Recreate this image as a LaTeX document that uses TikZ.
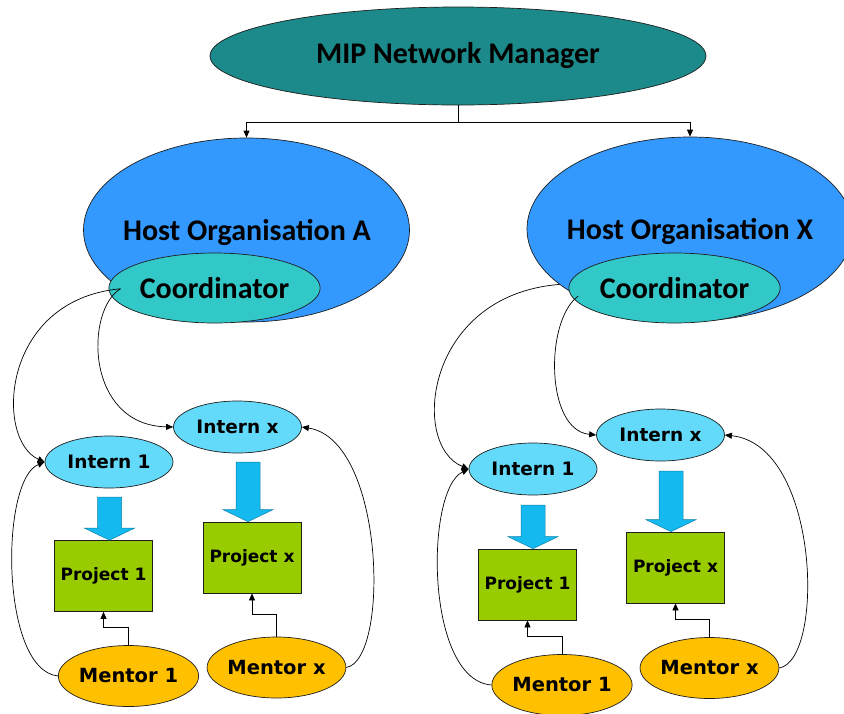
\documentclass[tikz,border=0pt]{standalone}
\usepackage{fontspec}
\setmainfont{Carlito}
\newfontfamily\labelfont{DejaVu Sans}
\usetikzlibrary{shapes.geometric,arrows.meta,calc}

\definecolor{managerteal}{RGB}{28,138,138}
\definecolor{hostblue}{RGB}{51,153,255}
\definecolor{coordcyan}{RGB}{51,200,200}
\definecolor{internblue}{RGB}{100,218,250}
\definecolor{feedblue}{RGB}{20,185,240}
\definecolor{projgreen}{RGB}{153,204,0}
\definecolor{mentoryellow}{RGB}{255,192,0}
\definecolor{inkline}{RGB}{30,30,30}

\tikzset{
  blob/.style={ellipse, draw=inkline, line width=0.7pt, inner sep=0pt, text=black},
  bigtext/.style={font=\bfseries\fontsize{30}{30}\selectfont},
  manager/.style={blob, fill=managerteal, minimum width=496pt, minimum height=98pt, bigtext},
  host/.style={blob, fill=hostblue, minimum width=326pt, minimum height=184pt, bigtext},
  coord/.style={blob, fill=coordcyan, minimum width=176pt, minimum height=70pt, bigtext},
  intern/.style={blob, fill=internblue, minimum width=128pt, minimum height=52pt,
    font=\labelfont\bfseries\fontsize{18.5}{18.5}\selectfont},
  mentor/.style={blob, fill=mentoryellow, minimum width=129pt, minimum height=61pt,
    font=\labelfont\bfseries\fontsize{19.5}{19.5}\selectfont},
  project/.style={rectangle, draw=inkline, line width=0.7pt, fill=projgreen, inner sep=0pt,
    minimum width=98pt, minimum height=71pt,
    font=\labelfont\bfseries\fontsize{17}{17}\selectfont},
  link/.style={draw=black, line width=0.7pt, -{Triangle[length=7pt,width=6pt]}},
  feed/.style={fill=feedblue, draw=feedblue!70!black, line width=0.5pt},
}

% broad block arrow: #1 top centre of the shaft, #2 tip
\newcommand\feedarrow[2]{%
  \path[feed] let \p1=#1, \p2=#2 in
    (\x1-12pt,\y1) -- (\x1+12pt,\y1) -- (\x1+12pt,\y2+12pt) -- (\x1+25pt,\y2+12pt)
    -- (\x1,\y2) -- (\x1-25pt,\y2+12pt) -- (\x1-12pt,\y2+12pt) -- cycle;}

\begin{document}
\begin{tikzpicture}[x=1pt,y=-1pt]
\useasboundingbox (0,0) rectangle (844,713);

% ---- network manager and hosts
\node[manager] (top) at (458,56) {MIP Network Manager};
\node[host] (hostA) at (246.5,230) {};
\node[bigtext] at (247,232) {Host Organisation A};
\node[coord] (coA) at (214.5,288) {Coordinator};
\node[host] (hostX) at (690,229) {};
\node[bigtext] at (690,231) {Host Organisation X};
\node[coord] (coX) at (674.5,288) {Coordinator};

\coordinate (split) at ($(top.south)+(0,17)$);
\draw[line width=0.7pt] (top.south) -- (split);
\draw[link] (split) -| (hostA.north);
\draw[link] (split) -| (hostX.north);

% ---- organisation A
\node[intern] (i1A) at (109,462) {Intern 1};
\node[intern] (ixA) at (237.5,427) {Intern x};
\node[project] (p1A) at (103.5,576) {Project 1};
\node[project] (pxA) at (252,557.5) {Project x};
\node[mentor] (m1A) at (128.5,676) {Mentor 1};
\node[mentor] (mxA) at (276.5,667.5) {Mentor x};

\feedarrow{(109.5,497)}{(p1A.north -| 109.5,0)}
\feedarrow{(248,462)}{(pxA.north -| 248,0)}

\draw[link] (hostA.205) .. controls (0,300) and (-5,440) .. (i1A.west);
\draw[link] (hostA.205) .. controls (85,310) and (85,425) .. (ixA.west);
\draw[link] (m1A.west) .. controls (0,670) and (0,480) .. (i1A.west);
\draw[link] (mxA.east) .. controls (390,660) and (385,440) .. (ixA.east);
\draw[link] (m1A.north) -- ++(0,-18) -| (p1A.south);
\draw[link] (mxA.north) -- ++(0,-22) -| (pxA.south);

% ---- organisation X
\node[intern] (i1X) at (533,469) {Intern 1};
\node[intern] (ixX) at (660.5,435) {Intern x};
\node[project] (p1X) at (527.5,584.5) {Project 1};
\node[project] (pxX) at (675.5,567.5) {Project x};
\node[mentor] (m1X) at (562,685) {Mentor 1};
\node[mentor] (mxX) at (709.5,668) {Mentor x};

\feedarrow{(533,505)}{(p1X.north -| 533,0)}
\feedarrow{(671,471)}{(pxX.north -| 671,0)}

\draw[link] (hostX.203) .. controls (425,295) and (410,445) .. (i1X.west);
\draw[link] (hostX.211) .. controls (545,320) and (545,430) .. (ixX.west);
\draw[link] (m1X.west) .. controls (425,680) and (425,490) .. (i1X.west);
\draw[link] (mxX.east) .. controls (825,660) and (820,445) .. (ixX.east);
\draw[link] (m1X.north) -- ++(0,-18) -| (p1X.south);
\draw[link] (mxX.north) -- ++(0,-18) -| (pxX.south);
\end{tikzpicture}
\end{document}
